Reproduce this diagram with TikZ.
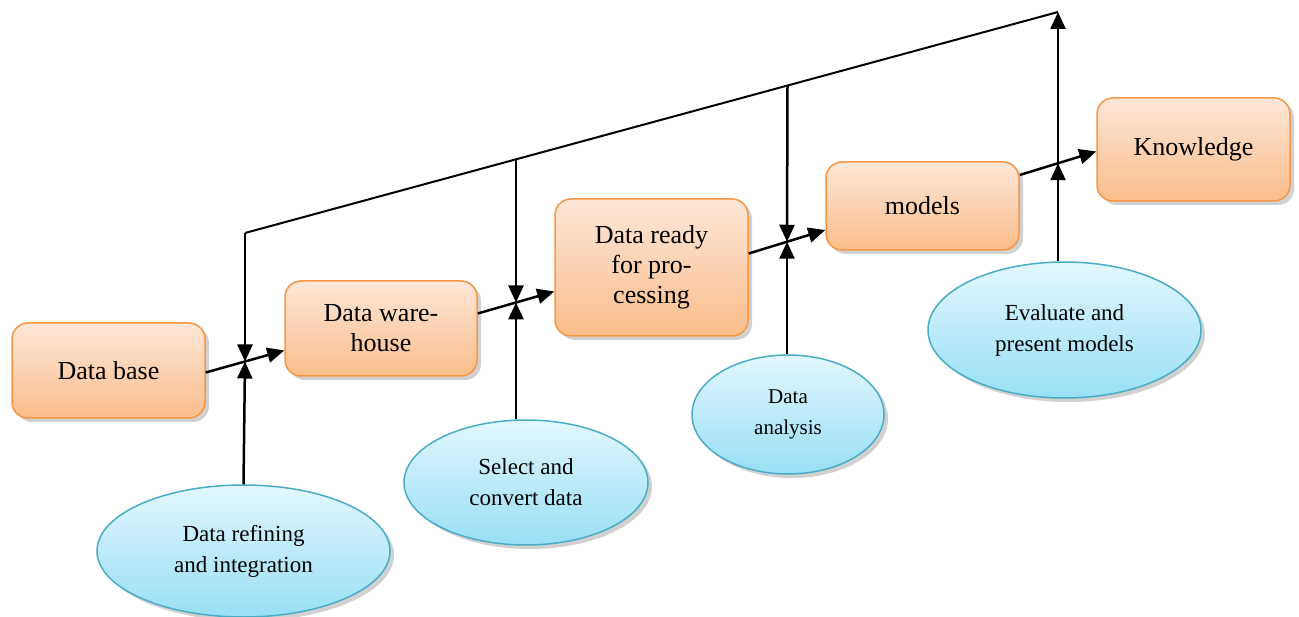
\documentclass[tikz,border=0pt]{standalone}
\usepackage{fontspec}
\setmainfont{Liberation Serif}
\usetikzlibrary{shapes.geometric,shadows,arrows.meta,calc}
\definecolor{boxtop}{HTML}{FDE7D8}
\definecolor{boxbot}{HTML}{FBBD8A}
\definecolor{boxline}{HTML}{F79646}
\definecolor{elltop}{HTML}{E2F7FD}
\definecolor{ellbot}{HTML}{98DFF6}
\definecolor{ellline}{HTML}{4BACC6}
\begin{document}
\begin{tikzpicture}[x=1pt,y=-1pt,
  stagebox/.style={rectangle, rounded corners=16pt, draw=boxline, line width=1.5pt,
    top color=boxtop, bottom color=boxbot,
    drop shadow={shadow xshift=4pt,shadow yshift=-4pt,opacity=0.3,fill=black!60},
    align=center, font=\fontsize{26}{30}\selectfont, inner sep=0pt},
  procell/.style={ellipse, draw=ellline, line width=1.5pt,
    top color=elltop, bottom color=ellbot,
    drop shadow={shadow xshift=4pt,shadow yshift=-4pt,opacity=0.3,fill=black!60},
    align=center, font=\fontsize{23}{31}\selectfont, inner sep=0pt},
  flow/.style={line width=2.5pt, -{Triangle[length=17pt,width=15pt]}},
  plain/.style={line width=2pt}]
\useasboundingbox (0,0) rectangle (1299,617);

% stage boxes
\node[stagebox, minimum width=193pt, minimum height=95pt] (db) at (108.5,370.5) {Data base};
\node[stagebox, minimum width=192pt, minimum height=95pt] (wh) at (381,328.5) {Data ware-\\house};
\node[stagebox, minimum width=193pt, minimum height=137pt] (dr) at (651.5,267.5) {Data ready\\for pro-\\cessing};
\node[stagebox, minimum width=193pt, minimum height=88pt] (md) at (922.5,206) {models};
\node[stagebox, minimum width=193pt, minimum height=103pt] (kn) at (1193.5,149.5) {Knowledge};

% process ellipses
\node[procell, minimum width=293pt, minimum height=132pt] (e1) at (243.5,551) {Data refining\\and integration};
\node[procell, minimum width=244pt, minimum height=125pt] (e2) at (526,482.5) {Select and\\convert data};
\node[procell, minimum width=192pt, minimum height=119pt, font=\fontsize{21}{31}\selectfont] (e3) at (788,414.5) {Data\\analysis};
\node[procell, minimum width=273pt, minimum height=136pt] (e4) at (1064.5,330) {Evaluate and\\present models};

% flow connector end points
\coordinate (a1) at ($(db.east)+(0,2)$);
\coordinate (b1) at ($(wh.west)+(0,22)$);
\coordinate (a2) at ($(wh.east)+(0,-15)$);
\coordinate (b2) at ($(dr.west)+(0,24)$);
\coordinate (a3) at ($(dr.east)+(0,-14)$);
\coordinate (b3) at ($(md.west)+(0,24)$);
\coordinate (a4) at ($(md.east)+(0,-31)$);
\coordinate (b4) at ($(kn.west)+(0,2)$);

\coordinate (j1) at ($(a1)!0.5!(b1)$);
\coordinate (j2) at ($(a2)!0.5!(b2)$);
\coordinate (j3) at ($(a3)!0.5!(b3)$);
\coordinate (j4) at ($(a4)!0.5!(b4)$);

% top feedback line
\coordinate (t1) at (245,233);
\coordinate (t4) at (1058,12);
\coordinate (t2) at (516,159.4);
\coordinate (t3) at (787.5,85.6);

\draw[plain] (t1) -- (t4);

\draw[flow] (a1) -- (b1);
\draw[flow] (a2) -- (b2);
\draw[flow] (a3) -- (b3);
\draw[flow] (a4) -- (b4);

\draw[flow] (t1) -- (j1);
\draw[flow] (e1.north) -- (j1);
\draw[flow] (t2) -- (j2);
\draw[flow] (e2.north -| j2) -- (j2);
\draw[flow] (t3) -- (j3);
\draw[flow] (e3.north -| j3) -- (j3);
\draw[flow] (e4.north -| j4) -- (j4);
\draw[flow] (j4) -- (t4);
\end{tikzpicture}
\end{document}
